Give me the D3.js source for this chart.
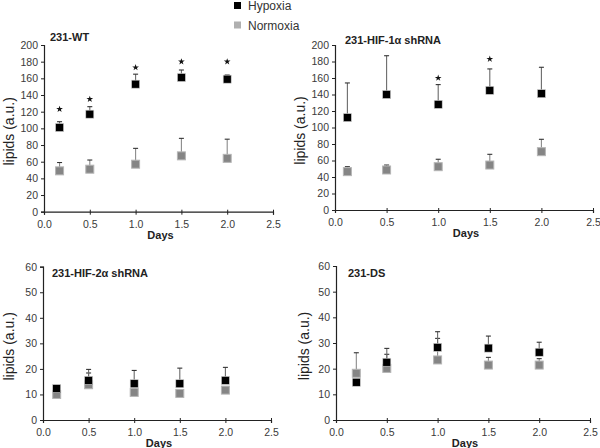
<!DOCTYPE html>
<html>
<head>
<meta charset="utf-8">
<script src="https://cdn.jsdelivr.net/npm/d3@7"></script>
<style>
  body { margin: 0; background: #fff; }
  svg { display: block; font-family: "Liberation Sans", Arial, sans-serif; }
</style>
</head>
<body>
<svg id="chart" width="600" height="448"></svg>
<script>
// ---- data ----
const titles = ["231-WT", "231-HIF-1\u03b1 shRNA", "231-HIF-2\u03b1 shRNA", "231-DS"];
const seriesNames = ["Hypoxia", "Normoxia"];
const xTicks = [0, 0.5, 1.0, 1.5, 2.0, 2.5];
const yTicksTop = [0, 20, 40, 60, 80, 100, 120, 140, 160, 180, 200];
const yTicksBottom = [0, 10, 20, 30, 40, 50, 60];

const daysWT = [0.17, 0.5, 1.0, 1.5, 2.0];
const hypWT = [101, 117, 153, 161, 159];
const hypWTErr = [7, 9, 12, 9, 5];
const norWT = [49, 51, 57, 67, 64];
const norWTErr = [10, 11, 19, 21, 23];
const starWT = [123, 135, 173, 180, 180];

const daysHIF1 = [0.12, 0.5, 1.0, 1.5, 2.0];
const hypHIF1 = [112, 140, 128, 145, 141];
const hypHIF1Err = [42, 47, 24, 26, 32];
const norHIF1 = [46.5, 48.5, 52.5, 54.5, 70.7];
const norHIF1Err = [6, 6, 9, 13, 15];
const starHIF1 = [null, null, 160, 183, null];

const daysHIF2 = [0.15, 0.5, 1.0, 1.5, 2.0];
const hypHIF2 = [12.3, 15.5, 14.2, 14.2, 15.5];
const hypHIF2Err = [0.5, 4.3, 5.2, 6.1, 5.1];
const norHIF2 = [10.0, 13.8, 10.8, 10.4, 11.7];
const norHIF2Err = [0.5, 4.6, 1.5, 0.8, 1.0];

const daysDS = [0.2, 0.5, 1.0, 1.5, 2.0];
const hypDS = [14.7, 22.5, 28.3, 28.0, 26.4];
const hypDSErr = [1, 5.4, 6.1, 4.7, 3.9];
const norDS = [18.2, 20.1, 23.4, 21.4, 21.4];
const norDSErr = [8, 5.5, 8.4, 3, 2.5];

// ---- layout ----
const panels = [
  {title: titles[0], days: daysWT, hyp: hypWT, hypErr: hypWTErr, nor: norWT, norErr: norWTErr, stars: starWT,
   yMax: 200, yTicks: yTicksTop, x0: 44, x1: 273, yTop: 45, yBot: 211.7, titleX: 50, titleY: 41, ylabX: 9},
  {title: titles[1], days: daysHIF1, hyp: hypHIF1, hypErr: hypHIF1Err, nor: norHIF1, norErr: norHIF1Err, stars: starHIF1,
   yMax: 200, yTicks: yTicksTop, x0: 335, x1: 593, yTop: 45, yBot: 210, titleX: 345, titleY: 44, ylabX: 300},
  {title: titles[2], days: daysHIF2, hyp: hypHIF2, hypErr: hypHIF2Err, nor: norHIF2, norErr: norHIF2Err, stars: null,
   yMax: 60, yTicks: yTicksBottom, x0: 43, x1: 271, yTop: 266.7, yBot: 420, titleX: 52, titleY: 277, ylabX: 9},
  {title: titles[3], days: daysDS, hyp: hypDS, hypErr: hypDSErr, nor: norDS, norErr: norDSErr, stars: null,
   yMax: 60, yTicks: yTicksBottom, x0: 336, x1: 590, yTop: 266, yBot: 420, titleX: 348, titleY: 277, ylabX: 304}
];

const svg = d3.select("#chart");
const hypColor = "#000000";
const norColor = "#858585";
const msz = 8;

panels.forEach(p => {
  const x = d3.scaleLinear().domain([0, 2.5]).range([p.x0, p.x1]);
  const y = d3.scaleLinear().domain([0, p.yMax]).range([p.yBot, p.yTop]);
  const g = svg.append("g");

  // y axis
  const yAxis = d3.axisLeft(y).tickValues(p.yTicks).tickSize(3).tickPadding(3).tickFormat(d3.format("d"));
  const ya = g.append("g").attr("transform", `translate(${p.x0},0)`).call(yAxis);
  ya.select(".domain").attr("stroke", "#222").attr("stroke-width", 1.2);
  ya.selectAll(".tick line").attr("stroke", "#222").attr("x2", -3).attr("x1", 1);
  ya.selectAll(".tick text").attr("font-size", 10.5).attr("fill", "#3a3a3a").attr("font-family", "Liberation Sans, Arial");

  // x axis
  const xAxis = d3.axisBottom(x).tickValues(xTicks).tickSize(3).tickPadding(6).tickFormat(d3.format(".1f"));
  const xa = g.append("g").attr("transform", `translate(0,${p.yBot})`).call(xAxis);
  xa.select(".domain").attr("stroke", "#222").attr("stroke-width", 1.2);
  xa.selectAll(".tick line").attr("stroke", "#222").attr("y1", -2).attr("y2", 3);
  xa.selectAll(".tick text").attr("font-size", 10.5).attr("fill", "#3a3a3a").attr("font-family", "Liberation Sans, Arial");

  // x label
  g.append("text").attr("x", (p.x0 + p.x1) / 2 + 2).attr("y", p.yBot + 27)
    .attr("text-anchor", "middle").attr("font-size", 11).attr("font-weight", "bold").attr("fill", "#222")
    .text("Days");

  // y label
  g.append("text")
    .attr("transform", `translate(${p.ylabX + 4.5},${(p.yTop + p.yBot) / 2 + 3}) rotate(-90)`)
    .attr("text-anchor", "middle").attr("font-size", 14).attr("fill", "#222")
    .text("lipids (a.u.)");

  // title
  g.append("text").attr("x", p.titleX).attr("y", p.titleY)
    .attr("font-size", 11).attr("font-weight", "bold").attr("fill", "#222").text(p.title);

  // error bars
  const drawErr = (vals, errs, color) => {
    vals.forEach((v, i) => {
      const cx = x(p.days[i]);
      const top = y(v + errs[i]);
      g.append("line").attr("x1", cx).attr("x2", cx).attr("y1", y(v)).attr("y2", top)
        .attr("stroke", color).attr("stroke-width", 1.1);
      g.append("line").attr("x1", cx - 2.5).attr("x2", cx + 2.5).attr("y1", top).attr("y2", top)
        .attr("stroke", "#333").attr("stroke-width", 1.1);
    });
  };
  drawErr(p.nor, p.norErr, "#8a8a8a");
  drawErr(p.hyp, p.hypErr, "#6a6a6a");

  // markers
  g.selectAll(".nor").data(p.nor).enter().append("rect")
    .attr("x", (d, i) => x(p.days[i]) - msz / 2).attr("y", d => y(d) - msz / 2)
    .attr("width", msz).attr("height", msz)
    .attr("fill", norColor).attr("stroke", "#b5b5b5").attr("stroke-width", 1);
  g.selectAll(".hyp").data(p.hyp).enter().append("rect")
    .attr("x", (d, i) => x(p.days[i]) - msz / 2).attr("y", d => y(d) - msz / 2)
    .attr("width", msz).attr("height", msz)
    .attr("fill", hypColor).attr("stroke", "#cfcfcf").attr("stroke-width", 0.6);

  // significance stars
  if (p.stars) {
    p.stars.forEach((s, i) => {
      if (s == null) return;
      g.append("path").attr("d", d3.symbol(d3.symbolStar, 14)())
        .attr("transform", `translate(${x(p.days[i])},${y(s)})`)
        .attr("fill", "#111");
    });
  }
});

// legend
const legend = svg.append("g");
const legendColors = ["#000000", "#b0b0b0"];
seriesNames.forEach((n, i) => {
  legend.append("rect").attr("x", 234).attr("y", 2 + i * 19.5).attr("width", 7).attr("height", 7)
    .attr("fill", legendColors[i]);
  legend.append("text").attr("x", 248).attr("y", 10 + i * 19.5)
    .attr("font-size", 12).attr("fill", "#333").text(n);
});
</script>
</body>
</html>
